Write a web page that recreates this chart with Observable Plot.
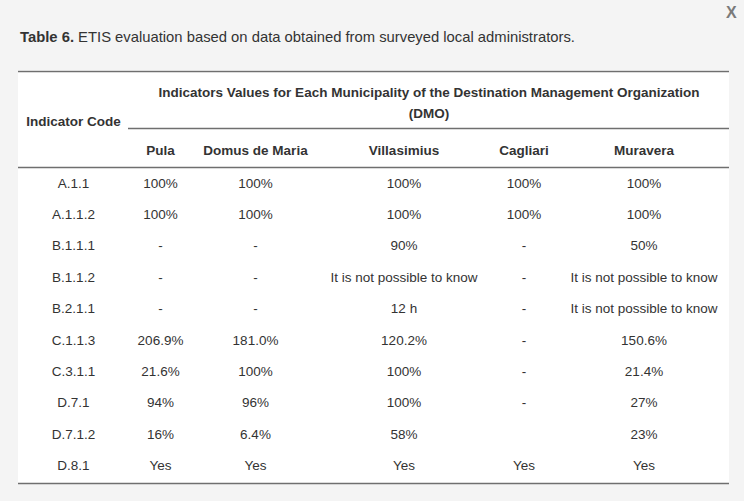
<!DOCTYPE html>
<html>
<head>
<meta charset="utf-8">
<script src="https://cdn.jsdelivr.net/npm/d3@7"></script>
<script src="https://cdn.jsdelivr.net/npm/@observablehq/plot@0.6"></script>
<style>
  html, body { margin: 0; padding: 0; background: #f4f4f4; width: 744px; height: 501px; overflow: hidden; }
  body { position: relative; font-family: "Liberation Sans", Arial, sans-serif; color: #333; }
  #title { position: absolute; left: 20px; top: 27px; font-size: 14.8px; line-height: 20px; color: #333; white-space: nowrap; }
  #title b { font-weight: bold; }
  #close { position: absolute; left: 726px; top: 5px; font-size: 16px; line-height: 16px; font-weight: bold; color: #7a7a7a; }
  #panel { position: absolute; left: 18px; top: 70px; width: 711px; background: #fff; }
  #panel svg { display: block; }
</style>
</head>
<body>
<div id="title"></div>
<div id="close">X</div>
<div id="panel"></div>
<script>
// ---------- data ----------
const titleLabel = "Table 6.";
const titleText = "ETIS evaluation based on data obtained from surveyed local administrators.";
const codeHeader = "Indicator Code";
const groupHeader = "Indicators Values for Each Municipality of the Destination Management Organization\n(DMO)";
const codes = ["A.1.1", "A.1.1.2", "B.1.1.1", "B.1.1.2", "B.2.1.1", "C.1.1.3", "C.3.1.1", "D.7.1", "D.7.1.2", "D.8.1"];
const municipalities = ["Pula", "Domus de Maria", "Villasimius", "Cagliari", "Muravera"];
const pula = ["100%", "100%", "-", "-", "-", "206.9%", "21.6%", "94%", "16%", "Yes"];
const domusDeMaria = ["100%", "100%", "-", "-", "-", "181.0%", "100%", "96%", "6.4%", "Yes"];
const villasimius = ["100%", "100%", "90%", "It is not possible to know", "12 h", "120.2%", "100%", "100%", "58%", "Yes"];
const cagliari = ["100%", "100%", "-", "-", "-", "-", "-", "-", "", "Yes"];
const muravera = ["100%", "100%", "50%", "It is not possible to know", "It is not possible to know", "150.6%", "21.4%", "27%", "23%", "Yes"];

// ---------- title ----------
const t = document.getElementById("title");
const tb = document.createElement("b"); tb.textContent = titleLabel;
t.appendChild(tb);
t.appendChild(document.createTextNode(" " + titleText));

// ---------- layout (table geometry, in layout units) ----------
const W = 711;
const colWidths = [110, 64, 126, 171, 69, 171];
const colEdges = d3.cumsum([0, ...colWidths]);          // left edges
const colCenter = colWidths.map((w, i) => colEdges[i] + w / 2);
const groupH = 57, subH = 39, rowH = 31.4, bottomPad = 2;
const headerBottom = groupH + subH;
const tableBottom = headerBottom + rowH * codes.length + bottomPad;
const H = Math.ceil(tableBottom) + 2;

const series = [pula, domusDeMaria, villasimius, cagliari, muravera];
const cells = [];
codes.forEach((code, r) => {
  series.forEach((vals, c) => cells.push({row: r, col: c + 1, value: vals[r]}));
});
const rowY = r => headerBottom + rowH * (r + 0.5);

const font = 13.5;
const txt = "#333";
const ruleColor = "#6f6f6f";

const chart = Plot.plot({
  width: W,
  height: H,
  margin: 0,
  marginTop: 1,
  marginBottom: H - 1 - tableBottom,
  style: {fontFamily: "'Liberation Sans', Arial, sans-serif", background: "transparent", overflow: "visible"},
  x: {type: "linear", domain: [0, W], axis: null},
  y: {type: "linear", domain: [0, tableBottom], reverse: true, axis: null},
  marks: [
    // rules
    Plot.ruleY([0], {stroke: ruleColor, strokeWidth: 1.6}),
    Plot.ruleY([groupH], {x1: colEdges[1], x2: W, stroke: ruleColor, strokeWidth: 1.3}),
    Plot.ruleY([headerBottom], {stroke: ruleColor, strokeWidth: 1.3}),
    Plot.ruleY([tableBottom], {stroke: ruleColor, strokeWidth: 1.6}),
    // headers
    Plot.text([groupHeader], {x: () => (colEdges[1] + W) / 2, y: () => 29.5, text: d => d,
      fontSize: font, fontWeight: "bold", fill: txt, lineHeight: 1.56, lineAnchor: "middle"}),
    Plot.text([codeHeader], {x: () => colCenter[0], y: () => 50, text: d => d,
      fontSize: font, fontWeight: "bold", fill: txt}),
    Plot.text(municipalities, {x: (d, i) => colCenter[i + 1], y: () => groupH + subH / 2 + 2.5, text: d => d,
      fontSize: font, fontWeight: "bold", fill: txt}),
    // indicator codes
    Plot.text(codes, {x: () => colCenter[0], y: (d, i) => rowY(i), text: d => d, fontSize: font, fill: txt}),
    // values
    Plot.text(cells, {x: d => colCenter[d.col], y: d => rowY(d.row), text: "value", fontSize: font, fill: txt})
  ]
});
document.getElementById("panel").appendChild(chart);
</script>
</body>
</html>
